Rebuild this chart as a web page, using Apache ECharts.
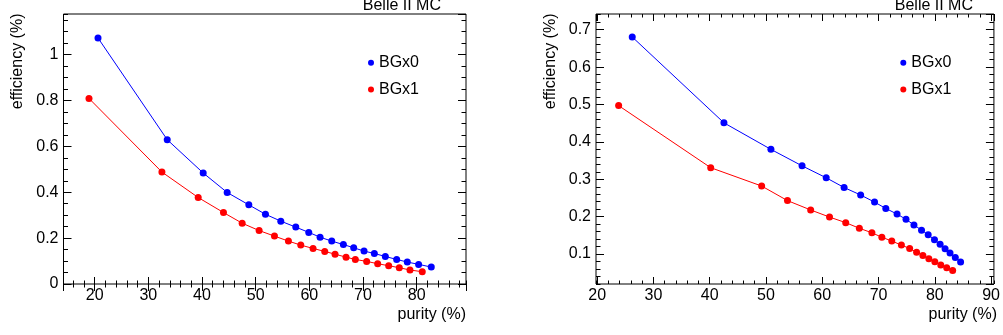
<!DOCTYPE html>
<html>
<head>
<meta charset="utf-8">
<script src="https://cdn.jsdelivr.net/npm/echarts@6/dist/echarts.min.js"></script>
<style>
html,body{margin:0;padding:0;background:#fff;}
#c{width:1003px;height:335px;}
</style>
</head>
<body>
<div id="c"></div>
<script>
// ---- data ----
var seriesNames = ['BGx0', 'BGx1'];

// Left panel
var leftPurityBG0 = [20.63, 33.53, 40.23, 44.70, 48.73, 51.83, 54.69, 57.48, 59.90, 62.01, 64.18, 66.35, 68.27, 70.20, 72.12, 74.17, 76.28, 78.26, 80.37, 82.73];
var leftEffBG0    = [1.0725, 0.629, 0.484, 0.399, 0.345, 0.304, 0.274, 0.248, 0.225, 0.204, 0.187, 0.172, 0.158, 0.1435, 0.133, 0.120, 0.107, 0.0957, 0.0855, 0.0739];
var leftPurityBG1 = [18.95, 32.54, 39.30, 44.01, 47.49, 50.65, 53.51, 56.11, 58.41, 60.70, 62.88, 64.80, 66.85, 68.58, 70.69, 72.74, 74.79, 76.77, 78.76, 81.05];
var leftEffBG1    = [0.809, 0.488, 0.377, 0.3116, 0.265, 0.233, 0.2087, 0.187, 0.1696, 0.155, 0.142, 0.130, 0.117, 0.107, 0.0986, 0.0884, 0.0797, 0.071, 0.061, 0.0536];

// Right panel
var rightPurityBG0 = [26.24, 42.53, 50.88, 56.41, 60.70, 63.88, 66.82, 69.29, 71.29, 73.29, 74.88, 76.29, 77.64, 78.82, 79.94, 80.94, 81.82, 82.70, 83.64, 84.58];
var rightEffBG0    = [0.6805, 0.451, 0.380, 0.336, 0.304, 0.278, 0.258, 0.239, 0.222, 0.207, 0.193, 0.178, 0.164, 0.152, 0.138, 0.126, 0.114, 0.103, 0.091, 0.079];
var rightPurityBG1 = [23.82, 40.18, 49.23, 53.82, 57.94, 61.29, 64.17, 66.59, 68.82, 70.59, 72.35, 74.06, 75.53, 76.76, 77.88, 78.94, 80.00, 81.06, 82.11, 83.17];
var rightEffBG1    = [0.497, 0.331, 0.282, 0.243, 0.218, 0.199, 0.184, 0.169, 0.157, 0.145, 0.135, 0.124, 0.115, 0.105, 0.096, 0.0875, 0.0795, 0.0706, 0.0634, 0.0563];

// axis ranges and tick steps
var leftX  = {min: 14.2, max: 89.2, major: 10, minor: 2};
var leftY  = {min: 0,    max: 1.177, major: 0.2, minor: 0.05};
var rightX = {min: 19.8, max: 90.5, major: 10, minor: 2};
var rightY = {min: 0.02, max: 0.742, major: 0.1, minor: 0.02};

var xTitle = 'purity (%)';
var yTitle = 'efficiency (%)';
var stamp = 'Belle II MC';

// ---- helpers ----
var FONT = '"Liberation Sans", Arial, Helvetica, sans-serif';
var colors = ['#0000ff', '#ff0000'];

function pairs(xs, ys) {
  var out = [];
  for (var i = 0; i < xs.length; i++) out.push([xs[i], ys[i]]);
  return out;
}

function makeAxis(grid, range, step, pos, tickLen, labels, showMinLbl) {
  return {
    type: 'value',
    gridIndex: grid,
    position: pos,
    min: range.min,
    max: range.max,
    minInterval: step,
    maxInterval: step,
    scale: true,
    axisLine: {show: false},
    splitLine: {show: false},
    axisTick: {show: true, inside: true, length: tickLen, lineStyle: {color: '#000', width: 1}},
    axisLabel: labels ? {
      show: true, color: '#000', fontSize: 16, fontFamily: FONT,
      margin: (pos === 'bottom' ? 4 : 5),
      showMinLabel: showMinLbl, showMaxLabel: false
    } : {show: false},
    silent: true
  };
}

var xAxes = [], yAxes = [];
[[leftX, leftY], [rightX, rightY]].forEach(function (r, g) {
  var rx = r[0], ry = r[1];
  var minLblX = (Math.abs(rx.min / rx.major - Math.round(rx.min / rx.major)) < 1e-9);
  var minLblY = (Math.abs(ry.min / ry.major - Math.round(ry.min / ry.major)) < 1e-9);
  xAxes.push(makeAxis(g, rx, rx.major, 'bottom', 7, true, minLblX));
  xAxes.push(makeAxis(g, rx, rx.minor, 'bottom', 3.5, false));
  xAxes.push(makeAxis(g, rx, rx.major, 'top', 7, false));
  xAxes.push(makeAxis(g, rx, rx.minor, 'top', 3.5, false));
  yAxes.push(makeAxis(g, ry, ry.major, 'left', 8, true, minLblY));
  yAxes.push(makeAxis(g, ry, ry.minor, 'left', 4.5, false));
  yAxes.push(makeAxis(g, ry, ry.major, 'right', 8, false));
  yAxes.push(makeAxis(g, ry, ry.minor, 'right', 4.5, false));
});

function lineSeries(name, data, g, ci) {
  return {
    type: 'line',
    name: name,
    xAxisIndex: g * 4,
    yAxisIndex: g * 4,
    data: data,
    symbol: 'circle',
    symbolSize: 7,
    showSymbol: true,
    animation: false,
    lineStyle: {color: colors[ci], width: 1},
    itemStyle: {color: colors[ci]},
    emphasis: {disabled: true},
    z: 3
  };
}

var series = [
  lineSeries(seriesNames[0], pairs(leftPurityBG0, leftEffBG0), 0, 0),
  lineSeries(seriesNames[1], pairs(leftPurityBG1, leftEffBG1), 0, 1),
  lineSeries(seriesNames[0], pairs(rightPurityBG0, rightEffBG0), 1, 0),
  lineSeries(seriesNames[1], pairs(rightPurityBG1, rightEffBG1), 1, 1)
];

function legendAt(left) {
  return {
    data: seriesNames.map(function (n) { return {name: n, icon: 'circle'}; }),
    orient: 'vertical',
    left: left,
    top: 54.7,
    padding: 0,
    itemWidth: 6,
    itemHeight: 6,
    itemGap: 10.7,
    itemTextGap: 6.5,
    selectedMode: false,
    textStyle: {fontSize: 16, fontFamily: FONT, color: '#000', lineHeight: 16}
  };
}

function txt(x, y, s, align, vAlign, rot) {
  return {
    type: 'text', x: x, y: y, rotation: rot || 0, silent: true,
    style: {text: s, fill: '#000', font: '16px ' + FONT, align: align, verticalAlign: vAlign}
  };
}

var option = {
  backgroundColor: '#fff',
  animation: false,
  grid: [
    {left: 63.5, top: 14, width: 402.5, height: 270, show: true, borderColor: '#000', borderWidth: 1, backgroundColor: 'transparent'},
    {left: 596, top: 14, width: 401, height: 270, show: true, borderColor: '#000', borderWidth: 1, backgroundColor: 'transparent'}
  ],
  xAxis: xAxes,
  yAxis: yAxes,
  legend: [legendAt(368), legendAt(900.3)],
  series: series,
  graphic: [
    txt(466, 315, xTitle, 'right', 'middle'),
    txt(997, 315, xTitle, 'right', 'middle'),
    txt(18, 13.5, yTitle, 'right', 'middle', Math.PI / 2),
    txt(550.5, 13.5, yTitle, 'right', 'middle', Math.PI / 2),
    txt(441, 14, stamp, 'right', 'bottom'),
    txt(973, 14, stamp, 'right', 'bottom')
  ]
};

var chart = echarts.init(document.getElementById('c'), null, {renderer: 'canvas'});
chart.setOption(option);
</script>
</body>
</html>
